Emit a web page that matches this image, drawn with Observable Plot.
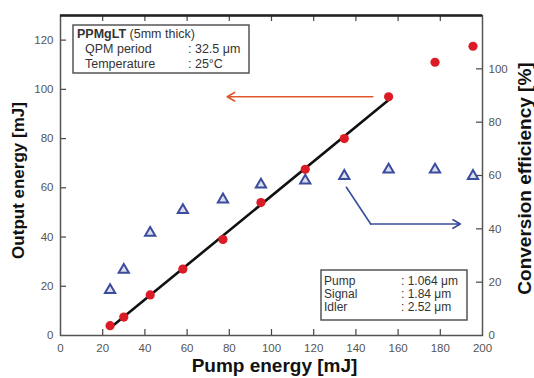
<!DOCTYPE html>
<html><head><meta charset="utf-8">
<script src="https://cdn.jsdelivr.net/npm/d3@7"></script>
<script src="https://cdn.jsdelivr.net/npm/@observablehq/plot@0.6"></script>
<style>body{margin:0;background:#fff} svg{display:block}</style>
</head><body><div id="chart"></div>
<script>
// ---- data ----
const pumpEnergy   = [23.5, 30, 42.5, 58, 77, 95, 116, 134.5, 155.5, 177.5, 195.5];
const outputEnergy = [4, 7.5, 16.5, 27, 39, 54, 67.5, 80, 97, 111, 117.5];
const efficiency   = [17, 24.6, 38.5, 47, 51, 56.6, 58.1, 59.8, 62.2, 62.2, 59.8];
const fitCount = 9; // linear fit drawn through the first 9 points

const xTicks      = [0, 20, 40, 60, 80, 100, 120, 140, 160, 180, 200];
const yLeftTicks  = [0, 20, 40, 60, 80, 100, 120];
const yRightTicks = [0, 20, 40, 60, 80, 100];
const xDomain = [0, 200], yLeftDomain = [0, 130], yRightDomain = [0, 120];

const xTitle = "Pump energy [mJ]";
const yLeftTitle = "Output energy [mJ]";
const yRightTitle = "Conversion efficiency [%]";

const crystalName = "PPMgLT", crystalNote = " (5mm thick)";
const crystalLabels = ["QPM period", "Temperature"];
const crystalValues = [": 32.5 \u03bcm", ": 25\u00b0C"];
const waveLabels = ["Pump", "Signal", "Idler"];
const waveValues = [": 1.064 \u03bcm", ": 1.84 \u03bcm", ": 2.52 \u03bcm"];

// annotation arrows (data units: output energy for red, efficiency for blue)
const redArrow = {x1: 148, y1: 97, x2: 79, y2: 97};
const blueArrowPath = [[135.5, 55.6], [147, 41.8], [189.5, 41.8]];

// ---- layout ----
const W = 534, H = 378, mL = 60, mR = 52, mT = 15, mB = 43;
const fw = W - mL - mR, fh = H - mT - mB, tickLen = 6;
const k = yLeftDomain[1] / yRightDomain[1]; // efficiency -> left scale
const RED = "#db1c26", BLUE = "#3a4c9e";

const pts = pumpEnergy.map((p, i) => ({p, out: outputEnergy[i], eff: efficiency[i] * k}));
const fitPts = pts.slice(0, fitCount);

function textBox(opts) {
  return (index, scales, values, dims) => {
    const g = d3.create("svg:g").attr("font-family", "Liberation Sans, Arial, sans-serif")
      .attr("font-size", opts.fontSize).attr("fill", "#333").attr("text-anchor", "start");
    g.append("rect").attr("x", opts.left).attr("y", opts.top)
      .attr("width", opts.width).attr("height", opts.height)
      .attr("fill", "white").attr("stroke", "#555").attr("stroke-width", 1.5);
    opts.rows.forEach((r, i) => {
      const y = opts.top + opts.first + i * opts.step;
      const t = g.append("text").attr("x", opts.left + r.indent).attr("y", y);
      if (r.bold) { t.append("tspan").attr("font-weight", "bold").text(r.bold); t.append("tspan").text(r.label); }
      else t.text(r.label);
      if (r.value) g.append("text").attr("x", opts.left + opts.valueX).attr("y", y).text(r.value);
    });
    return g.node();
  };
}

const tickFont = {fontSize: 11.5, fill: "#555"};

const chart = Plot.plot({
  width: W, height: H, marginLeft: mL, marginRight: mR, marginTop: mT, marginBottom: mB,
  style: {fontFamily: "Liberation Sans, Arial, sans-serif", background: "white"},
  x: {domain: xDomain},
  y: {domain: yLeftDomain},
  marks: [
    textBox({left: mL + 13, top: mT + 10, width: 176, height: 48, fontSize: 12.5, first: 13, step: 15, valueX: 115,
      rows: [{indent: 4, bold: crystalName, label: crystalNote},
             ...crystalLabels.map((l, i) => ({indent: 12, label: l, value: crystalValues[i]}))]}),
    textBox({left: mL + fw - 161, top: mT + fh - 65, width: 146, height: 50, fontSize: 12, first: 15, step: 13, valueX: 80,
      rows: waveLabels.map((l, i) => ({indent: 3, label: l, value: waveValues[i]}))}),
    // inward ticks
    Plot.tickX(xTicks.slice(1, -1), {x: d => d, insetTop: fh - tickLen, stroke: "#444", strokeWidth: 1.2}),
    Plot.tickX(xTicks.slice(1, -1), {x: d => d, insetBottom: fh - tickLen, stroke: "#444", strokeWidth: 1.2}),
    Plot.tickY(yLeftTicks.slice(1), {y: d => d, insetRight: fw - tickLen, stroke: "#444", strokeWidth: 1.2}),
    Plot.tickY(yRightTicks.slice(1), {y: d => d * k, insetLeft: fw - tickLen, stroke: "#444", strokeWidth: 1.2}),
    // tick labels
    Plot.axisX({ticks: xTicks, tickSize: 0, tickPadding: 8, label: null, ...tickFont}),
    Plot.axisY({ticks: yLeftTicks, tickSize: 0, tickPadding: 7, label: null, ...tickFont}),
    Plot.axisY({anchor: "right", ticks: yRightTicks.map(d => d * k), tickFormat: d => Math.round(d / k),
      tickSize: 0, tickPadding: 6, label: null, ...tickFont}),
    Plot.frame({stroke: "#555", strokeWidth: 1.5}),
    Plot.ruleY([yLeftDomain[1]], {stroke: "#222", strokeWidth: 2.5}),
    // arrows
    Plot.arrow([redArrow], {x1: "x1", y1: "y1", x2: "x2", y2: "y2", stroke: "#e0562e", strokeWidth: 1.6, headLength: 8}),
    Plot.line(blueArrowPath.slice(0, 2), {x: d => d[0], y: d => d[1] * k, stroke: BLUE, strokeWidth: 1.6}),
    Plot.arrow([blueArrowPath], {x1: d => d[1][0], y1: d => d[1][1] * k, x2: d => d[2][0], y2: d => d[2][1] * k,
      stroke: BLUE, strokeWidth: 1.6, headLength: 8}),
    // data
    Plot.linearRegressionY(fitPts, {x: "p", y: "out", stroke: "#111", strokeWidth: 2.6, ci: 0}),
    Plot.dot(pts, {x: "p", y: "eff", symbol: "triangle", r: 3.8, stroke: BLUE, strokeWidth: 2, fill: "#dde"}),
    Plot.dot(pts, {x: "p", y: "out", r: 4.6, fill: RED}),
    // axis titles
    Plot.text([xTitle], {frameAnchor: "bottom", textAnchor: "middle", lineAnchor: "middle", dx: 3, dy: 30,
      fontSize: 19, fontWeight: "bold", fill: "#111"}),
    Plot.text([yLeftTitle], {frameAnchor: "left", textAnchor: "middle", lineAnchor: "middle", rotate: -90, dx: -42, dy: 5,
      fontSize: 17, fontWeight: "bold", fill: "#111"}),
    Plot.text([yRightTitle], {frameAnchor: "right", textAnchor: "middle", lineAnchor: "middle", rotate: -90, dx: 42, dy: 3,
      fontSize: 19, fontWeight: "bold", fill: "#111", letterSpacing: 0.9})
  ]
});
document.getElementById("chart").append(chart);
</script>
</body></html>
